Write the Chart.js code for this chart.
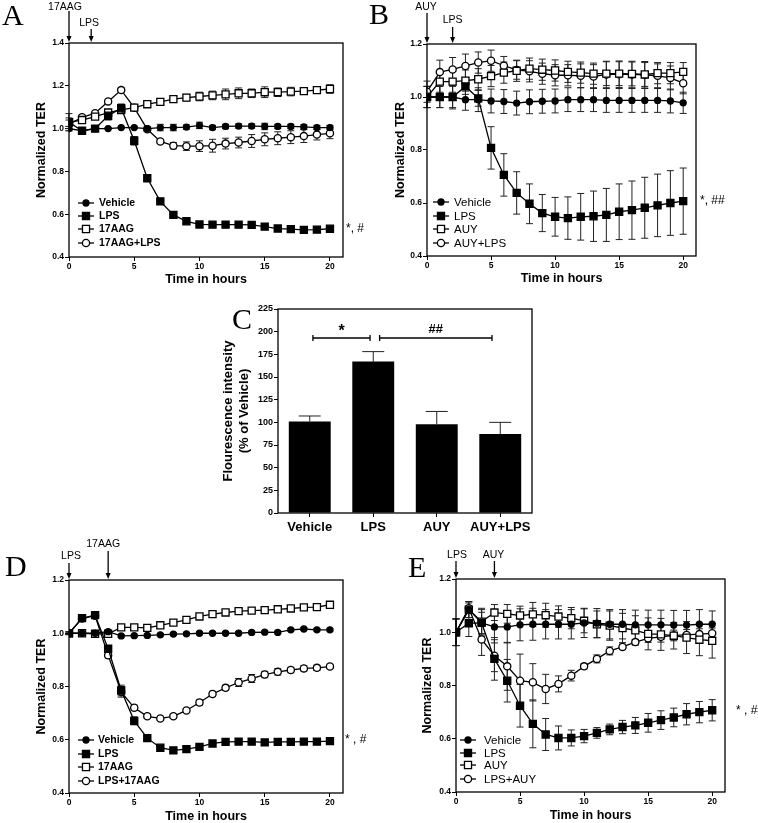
<!DOCTYPE html>
<html>
<head>
<meta charset="utf-8">
<script src="https://cdn.jsdelivr.net/npm/chart.js@4.4.1/dist/chart.umd.min.js"></script>
<style>
  body { margin: 0; background: #fff; width: 758px; height: 823px; position: relative; overflow: hidden; }
  canvas { position: absolute; }
</style>
</head>
<body>
<canvas id="chartA"></canvas>
<canvas id="chartB"></canvas>
<canvas id="chartC"></canvas>
<canvas id="chartD"></canvas>
<canvas id="chartE"></canvas>
<script>
const hours = [0, 1, 2, 3, 4, 5, 6, 7, 8, 9, 10, 11, 12, 13, 14, 15, 16, 17, 18, 19, 20];

// Panel A - 17AAG pretreatment
const aVehicle = [1.00, 0.99, 1.00, 1.00, 1.005, 1.005, 1.00, 1.005, 1.005, 1.007, 1.015, 1.005, 1.01, 1.012, 1.012, 1.01, 1.01, 1.01, 1.008, 1.005, 1.005];
const aVehicleErr = [0.01, 0.01, 0.01, 0.005, 0.005, 0.005, 0.01, 0.015, 0.015, 0.01, 0.015, 0.01, 0.01, 0.01, 0.01, 0.015, 0.01, 0.01, 0.01, 0.01, 0.01];
const aLps = [1.03, 0.99, 1.00, 1.06, 1.095, 0.943, 0.768, 0.66, 0.597, 0.567, 0.552, 0.551, 0.551, 0.551, 0.55, 0.542, 0.533, 0.53, 0.527, 0.528, 0.532];
const aLpsErr = [0.04, 0.01, 0.01, 0.02, 0.02, 0.02, 0.015, 0.01, 0.01, 0.01, 0.005, 0.005, 0.005, 0.005, 0.005, 0.005, 0.005, 0.005, 0.005, 0.005, 0.005];
const a17aag = [1.03, 1.04, 1.056, 1.075, 1.087, 1.098, 1.114, 1.125, 1.138, 1.145, 1.15, 1.155, 1.16, 1.165, 1.165, 1.17, 1.17, 1.173, 1.175, 1.18, 1.185];
const a17aagErr = [0.02, 0.01, 0.01, 0.01, 0.01, 0.01, 0.01, 0.01, 0.015, 0.015, 0.02, 0.02, 0.025, 0.025, 0.02, 0.025, 0.02, 0.02, 0.015, 0.015, 0.02];
const a17aagLps = [1.02, 1.053, 1.072, 1.127, 1.18, 1.098, 0.997, 0.94, 0.92, 0.918, 0.918, 0.92, 0.93, 0.935, 0.942, 0.95, 0.955, 0.96, 0.965, 0.972, 0.978];
const a17aagLpsErr = [0.02, 0.01, 0.01, 0.01, 0.01, 0.01, 0.01, 0.01, 0.015, 0.02, 0.025, 0.03, 0.025, 0.025, 0.03, 0.03, 0.03, 0.03, 0.03, 0.025, 0.025];

// Panel B - AUY pretreatment
const bVehicle = [1.0, 1.0, 1.0, 0.99, 0.99, 0.985, 0.983, 0.977, 0.982, 0.984, 0.985, 0.99, 0.99, 0.99, 0.987, 0.987, 0.987, 0.987, 0.987, 0.985, 0.978];
const bVehicleErr = [0.04, 0.04, 0.045, 0.04, 0.045, 0.045, 0.045, 0.045, 0.045, 0.045, 0.045, 0.045, 0.045, 0.045, 0.045, 0.045, 0.045, 0.045, 0.045, 0.045, 0.04];
const bLps = [1.0, 1.0, 1.0, 1.04, 0.995, 0.808, 0.706, 0.638, 0.597, 0.562, 0.548, 0.543, 0.548, 0.55, 0.555, 0.567, 0.573, 0.582, 0.591, 0.6, 0.607];
const bLpsErr = [0.04, 0.04, 0.04, 0.03, 0.03, 0.08, 0.08, 0.08, 0.075, 0.07, 0.073, 0.08, 0.088, 0.095, 0.1, 0.105, 0.11, 0.115, 0.118, 0.122, 0.125];
const bAuy = [1.0, 1.058, 1.058, 1.062, 1.067, 1.079, 1.092, 1.099, 1.107, 1.103, 1.1, 1.095, 1.092, 1.088, 1.088, 1.088, 1.087, 1.085, 1.09, 1.09, 1.095];
const bAuyErr = [0.04, 0.04, 0.04, 0.04, 0.04, 0.04, 0.04, 0.04, 0.04, 0.04, 0.04, 0.04, 0.04, 0.04, 0.045, 0.045, 0.045, 0.045, 0.04, 0.04, 0.035];
const bAuyLps = [1.02, 1.094, 1.104, 1.117, 1.13, 1.137, 1.118, 1.102, 1.097, 1.088, 1.082, 1.082, 1.08, 1.077, 1.085, 1.086, 1.085, 1.084, 1.08, 1.072, 1.052];
const bAuyLpsErr = [0.04, 0.045, 0.045, 0.045, 0.04, 0.04, 0.035, 0.035, 0.04, 0.04, 0.04, 0.04, 0.045, 0.045, 0.05, 0.05, 0.05, 0.05, 0.045, 0.045, 0.04];

// Panel C - fluorescence bars
const cCategories = ["Vehicle", "LPS", "AUY", "AUY+LPS"];
const cValues = [101, 167, 98, 87];
const cErr = [6, 11, 14, 13];
const cBrackets = [
  { from: 0.05, to: 0.95, value: 193, label: "*" },
  { from: 1.1, to: 2.87, value: 193, label: "##" },
];

// Panel D - 17AAG post-treatment
const dVehicle = [1.0, 1.0, 1.0, 1.006, 0.99, 0.991, 0.992, 0.994, 0.997, 0.998, 1.0, 1.0, 1.0, 1.0, 1.003, 1.004, 1.003, 1.013, 1.016, 1.013, 1.013];
const dVehicleErr = [0.005, 0.005, 0.005, 0.005, 0.005, 0.005, 0.005, 0.005, 0.005, 0.005, 0.005, 0.005, 0.005, 0.005, 0.005, 0.005, 0.005, 0.005, 0.005, 0.005, 0.005];
const dLps = [1.0, 1.057, 1.068, 0.942, 0.785, 0.671, 0.606, 0.57, 0.56, 0.565, 0.573, 0.586, 0.592, 0.593, 0.593, 0.59, 0.592, 0.592, 0.593, 0.593, 0.595];
const dLpsErr = [0.005, 0.008, 0.008, 0.01, 0.02, 0.015, 0.008, 0.005, 0.005, 0.005, 0.005, 0.005, 0.005, 0.005, 0.005, 0.005, 0.005, 0.005, 0.005, 0.005, 0.005];
const d17aag = [1.0, 1.0, 0.998, 0.998, 1.022, 1.022, 1.02, 1.03, 1.04, 1.05, 1.063, 1.072, 1.078, 1.083, 1.085, 1.087, 1.09, 1.093, 1.097, 1.098, 1.107];
const d17aagErr = [0.005, 0.005, 0.005, 0.005, 0.005, 0.005, 0.005, 0.005, 0.005, 0.005, 0.008, 0.008, 0.008, 0.008, 0.008, 0.008, 0.008, 0.008, 0.008, 0.008, 0.01];
const dLps17aag = [1.0, 1.055, 1.066, 0.917, 0.78, 0.72, 0.688, 0.68, 0.688, 0.71, 0.74, 0.772, 0.795, 0.815, 0.83, 0.845, 0.855, 0.862, 0.868, 0.87, 0.875];
const dLps17aagErr = [0.005, 0.008, 0.008, 0.01, 0.02, 0.01, 0.008, 0.008, 0.008, 0.008, 0.01, 0.01, 0.01, 0.015, 0.015, 0.012, 0.012, 0.01, 0.01, 0.01, 0.008];

// Panel E - AUY post-treatment
const eVehicle = [1.0, 1.085, 1.035, 1.02, 1.02, 1.028, 1.03, 1.03, 1.03, 1.03, 1.035, 1.034, 1.03, 1.03, 1.028, 1.028, 1.028, 1.027, 1.027, 1.03, 1.03];
const eVehicleErr = [0.05, 0.03, 0.05, 0.06, 0.06, 0.06, 0.06, 0.055, 0.055, 0.055, 0.055, 0.055, 0.055, 0.055, 0.055, 0.055, 0.055, 0.055, 0.055, 0.055, 0.05];
const eLps = [1.0, 1.034, 1.035, 0.90, 0.818, 0.724, 0.656, 0.616, 0.603, 0.603, 0.61, 0.622, 0.635, 0.644, 0.65, 0.66, 0.67, 0.68, 0.692, 0.70, 0.707];
const eLpsErr = [0.05, 0.05, 0.04, 0.08, 0.08, 0.08, 0.09, 0.06, 0.045, 0.03, 0.025, 0.02, 0.02, 0.025, 0.03, 0.035, 0.035, 0.035, 0.04, 0.04, 0.04];
const eAuy = [1.0, 1.085, 1.04, 1.074, 1.069, 1.063, 1.067, 1.064, 1.059, 1.053, 1.043, 1.03, 1.025, 1.016, 1.007, 0.994, 0.992, 0.987, 0.98, 0.972, 0.968];
const eAuyErr = [0.05, 0.03, 0.05, 0.03, 0.035, 0.035, 0.045, 0.045, 0.04, 0.04, 0.045, 0.05, 0.055, 0.055, 0.055, 0.06, 0.06, 0.05, 0.06, 0.06, 0.065];
const eLpsAuy = [1.0, 1.09, 0.973, 0.912, 0.872, 0.818, 0.812, 0.787, 0.806, 0.837, 0.872, 0.90, 0.93, 0.945, 0.963, 0.977, 0.983, 0.988, 0.99, 0.993, 0.996];
const eLpsAuyErr = [0.05, 0.02, 0.06, 0.06, 0.09, 0.1, 0.07, 0.055, 0.03, 0.02, 0.01, 0.015, 0.015, 0.01, 0.01, 0.015, 0.02, 0.02, 0.02, 0.02, 0.02];

const FONT = "Liberation Sans";
Chart.defaults.font.family = FONT;
Chart.defaults.color = "#000";

const markers = {
  filledCircle: { shape: "circle", r: 3, fill: "#000" },
  filledSquare: { shape: "rect", r: 5, fill: "#000" },
  openSquare: { shape: "rect", r: 5, fill: "#fff" },
  openCircle: { shape: "circle", r: 3.6, fill: "#fff" },
};

function series(label, values, errors, kind) {
  const m = markers[kind];
  return {
    label,
    data: hours.map((h, i) => ({ x: h, y: values[i] })),
    errors,
    marker: m,
    borderColor: "#000",
    borderWidth: 1.3,
    pointStyle: m.shape,
    pointRadius: m.r,
    pointHoverRadius: m.r,
    pointBackgroundColor: m.fill,
    pointBorderColor: "#000",
    pointBorderWidth: 1.3,
  };
}

function drawMarker(ctx, m, x, y) {
  ctx.save();
  ctx.lineWidth = 1.3;
  ctx.strokeStyle = "#000";
  ctx.fillStyle = m.fill;
  ctx.beginPath();
  if (m.shape === "circle") {
    ctx.arc(x, y, m.r, 0, Math.PI * 2);
  } else {
    const s = m.r * Math.SQRT1_2;
    ctx.rect(x - s, y - s, 2 * s, 2 * s);
  }
  ctx.fill();
  ctx.stroke();
  ctx.restore();
}

function arrow(ctx, x, y0, y1) {
  ctx.save();
  ctx.strokeStyle = "#000";
  ctx.fillStyle = "#000";
  ctx.lineWidth = 1.3;
  ctx.beginPath();
  ctx.moveTo(x, y0);
  ctx.lineTo(x, y1 - 4);
  ctx.stroke();
  ctx.beginPath();
  ctx.moveTo(x - 2.5, y1 - 6);
  ctx.lineTo(x + 2.5, y1 - 6);
  ctx.lineTo(x, y1);
  ctx.closePath();
  ctx.fill();
  ctx.restore();
}

// frame, error bars, letters, arrows, legend and notes
const figurePlugin = {
  id: "figure",
  beforeDatasetsDraw(chart, args, opts) {
    const ctx = chart.ctx;
    const ys = chart.scales.y;
    ctx.save();
    ctx.strokeStyle = "#222";
    ctx.lineWidth = 1;
    chart.data.datasets.forEach((ds, i) => {
      if (!ds.errors) return;
      const meta = chart.getDatasetMeta(i);
      ds.data.forEach((d, j) => {
        const v = typeof d === "number" ? d : d.y;
        const e = ds.errors[j];
        const x = meta.data[j].x;
        const top = ys.getPixelForValue(v + e);
        const bot = opts.upOnly ? ys.getPixelForValue(v) : ys.getPixelForValue(v - e);
        const cap = opts.cap || 3.5;
        ctx.beginPath();
        ctx.moveTo(x, top); ctx.lineTo(x, bot);
        ctx.moveTo(x - cap, top); ctx.lineTo(x + cap, top);
        if (!opts.upOnly) { ctx.moveTo(x - cap, bot); ctx.lineTo(x + cap, bot); }
        ctx.stroke();
      });
    });
    ctx.restore();
  },
  afterDraw(chart, args, opts) {
    const ctx = chart.ctx;
    const a = chart.chartArea;
    const ox = opts.box.x, oy = opts.box.y;
    ctx.save();
    ctx.strokeStyle = "#000";
    ctx.lineWidth = 1.3;
    ctx.strokeRect(a.left, a.top, a.right - a.left, a.bottom - a.top);

    ctx.fillStyle = "#000";
    ctx.font = "30px 'Liberation Serif'";
    ctx.textBaseline = "alphabetic";
    ctx.textAlign = "left";
    ctx.fillText(opts.letter.text, opts.letter.x - ox, opts.letter.y - oy);

    (opts.arrows || []).forEach(ar => {
      const x = chart.scales.x.getPixelForValue(ar.hour);
      ctx.font = "10.5px " + FONT;
      ctx.textAlign = "center";
      ctx.fillText(ar.text, x + (ar.dx || 0), ar.textY - oy);
      arrow(ctx, x, ar.from - oy, ar.to - oy);
    });

    if (opts.legend) {
      const lg = opts.legend;
      ctx.font = (lg.bold ? "bold " : "") + lg.size + "px " + FONT;
      ctx.textAlign = "left";
      ctx.textBaseline = "middle";
      chart.data.datasets.forEach((ds, i) => {
        const y = lg.rows[i] - oy;
        const mx = lg.markerX - ox;
        ctx.beginPath();
        ctx.lineWidth = 1.3;
        ctx.moveTo(mx - 8, y); ctx.lineTo(mx + 8, y);
        ctx.stroke();
        drawMarker(ctx, ds.marker, mx, y);
        ctx.fillText(ds.label, lg.textX - ox, y + 0.5);
      });
    }

    if (opts.note) {
      ctx.font = "12px " + FONT;
      ctx.textAlign = "left";
      ctx.textBaseline = "middle";
      ctx.fillText(opts.note.text, opts.note.x - ox, chart.scales.y.getPixelForValue(opts.note.value));
    }

    (opts.brackets || []).forEach(br => {
      const xs = chart.scales.x;
      const x0 = xs.getPixelForValue(0);
      const step = xs.getPixelForValue(1) - x0;
      const l = x0 + br.from * step, r = x0 + br.to * step;
      const y = chart.scales.y.getPixelForValue(br.value);
      ctx.lineWidth = 1.3;
      ctx.beginPath();
      ctx.moveTo(l, y); ctx.lineTo(r, y);
      ctx.moveTo(l, y - 3); ctx.lineTo(l, y + 3);
      ctx.moveTo(r, y - 3); ctx.lineTo(r, y + 3);
      ctx.stroke();
      ctx.font = (br.label === "*" ? "bold 16px " : "bold 13px ") + FONT;
      ctx.textAlign = "center";
      ctx.textBaseline = "alphabetic";
      ctx.fillText(br.label, (l + r) / 2, y - (br.label === "*" ? 2 : 5));
    });
    ctx.restore();
  },
};
Chart.register(figurePlugin);

function place(canvas, box) {
  canvas.width = box.w;
  canvas.height = box.h;
  canvas.style.left = box.x + "px";
  canvas.style.top = box.y + "px";
}

function timeCourse(id, box, area, yMax, datasets, titles, fig) {
  const canvas = document.getElementById(id);
  place(canvas, box);
  const tickFont = { family: FONT, size: 8.5, weight: "bold" };
  const titleFont = { family: FONT, size: 12.5, weight: "bold", lineHeight: 1 };
  return new Chart(canvas, {
    type: "line",
    data: { datasets },
    options: {
      animation: false,
      responsive: false,
      devicePixelRatio: 1,
      layout: { padding: { left: 0, top: area.t - box.y, right: box.x + box.w - area.r, bottom: 0 } },
      scales: {
        x: {
          type: "linear", min: 0, max: 21,
          ticks: { stepSize: 5, includeBounds: false, font: tickFont, color: "#000", padding: 1, maxRotation: 0 },
          grid: { drawOnChartArea: false, tickLength: 4, color: "#000" },
          border: { display: false },
          title: { display: true, text: "Time in hours", font: titleFont, color: "#000", padding: { top: 0, bottom: titles.xPad } },
          afterFit: s => { s.height = box.y + box.h - area.b; },
        },
        y: {
          min: 0.4, max: yMax,
          ticks: { stepSize: 0.2, font: tickFont, color: "#000", padding: 1, callback: v => v.toFixed(1) },
          grid: { drawOnChartArea: false, tickLength: 4, color: "#000" },
          border: { display: false },
          title: { display: true, text: "Normalized TER", font: titleFont, color: "#000", padding: { top: titles.yPad, bottom: 0 } },
          afterFit: s => { s.width = area.l - box.x; },
        },
      },
      plugins: {
        legend: { display: false },
        tooltip: { enabled: false },
        figure: Object.assign({ box }, fig),
      },
    },
  });
}

// A
timeCourse("chartA",
  { x: 0, y: 0, w: 378, h: 292 }, { l: 69, t: 43, r: 343, b: 257 }, 1.4,
  [
    series("Vehicle", aVehicle, aVehicleErr, "filledCircle"),
    series("LPS", aLps, aLpsErr, "filledSquare"),
    series("17AAG", a17aag, a17aagErr, "openSquare"),
    series("17AAG+LPS", a17aagLps, a17aagLpsErr, "openCircle"),
  ],
  { xPad: 5.75, yPad: 35.75 },
  {
    letter: { text: "A", x: 2, y: 25 },
    arrows: [
      { text: "17AAG", hour: 0, dx: -4, textY: 9.5, from: 11, to: 42 },
      { text: "LPS", hour: 1.7, dx: -2, textY: 26, from: 29, to: 42 },
    ],
    legend: { rows: [203, 216, 229, 243], markerX: 86, textX: 99, bold: true, size: 10.5 },
    note: { text: "*, #", x: 346, value: 0.532 },
  });

// B
timeCourse("chartB",
  { x: 360, y: 0, w: 398, h: 292 }, { l: 427, t: 44, r: 696, b: 256 }, 1.2,
  [
    series("Vehicle", bVehicle, bVehicleErr, "filledCircle"),
    series("LPS", bLps, bLpsErr, "filledSquare"),
    series("AUY", bAuy, bAuyErr, "openSquare"),
    series("AUY+LPS", bAuyLps, bAuyLpsErr, "openCircle"),
  ],
  { xPad: 6.75, yPad: 34.75 },
  {
    letter: { text: "B", x: 369, y: 24 },
    arrows: [
      { text: "AUY", hour: 0, dx: -1, textY: 10, from: 13, to: 43 },
      { text: "LPS", hour: 2, dx: 0, textY: 23, from: 27, to: 43 },
    ],
    legend: { rows: [202, 216, 229, 243], markerX: 441, textX: 454, bold: false, size: 11.5 },
    note: { text: "*, ##", x: 700, value: 0.607 },
  });

// C
(function () {
  const box = { x: 200, y: 290, w: 360, h: 250 };
  const area = { l: 278, t: 309, r: 532, b: 513 };
  const canvas = document.getElementById("chartC");
  place(canvas, box);
  new Chart(canvas, {
    type: "bar",
    data: {
      labels: cCategories,
      datasets: [{ data: cValues, errors: cErr, backgroundColor: "#000", barPercentage: 0.66, categoryPercentage: 1 }],
    },
    options: {
      animation: false,
      responsive: false,
      devicePixelRatio: 1,
      layout: { padding: { left: 0, top: area.t - box.y, right: box.x + box.w - area.r, bottom: 0 } },
      scales: {
        x: {
          ticks: { font: { family: FONT, size: 13, weight: "bold" }, color: "#000", padding: 3, maxRotation: 0 },
          grid: { drawOnChartArea: false, tickLength: 4, color: "#000", offset: false },
          border: { display: false },
          afterFit: s => { s.height = box.y + box.h - area.b; },
        },
        y: {
          min: 0, max: 225,
          ticks: { stepSize: 25, font: { family: FONT, size: 9, weight: "bold" }, color: "#000", padding: 1 },
          grid: { drawOnChartArea: false, tickLength: 4, color: "#000" },
          border: { display: false },
          title: {
            display: true, text: ["Flourescence intensity", "(% of Vehicle)"],
            font: { family: FONT, size: 13, weight: "bold", lineHeight: 1.3 }, color: "#000",
            padding: { top: 19.5, bottom: 0 },
          },
          afterFit: s => { s.width = area.l - box.x; },
        },
      },
      plugins: {
        legend: { display: false },
        tooltip: { enabled: false },
        figure: { box, upOnly: true, cap: 11, letter: { text: "C", x: 232, y: 329 }, brackets: cBrackets },
      },
    },
  });
})();

// D
timeCourse("chartD",
  { x: 0, y: 530, w: 378, h: 293 }, { l: 69, t: 580, r: 343, b: 793 }, 1.2,
  [
    series("Vehicle", dVehicle, dVehicleErr, "filledCircle"),
    series("LPS", dLps, dLpsErr, "filledSquare"),
    series("17AAG", d17aag, d17aagErr, "openSquare"),
    series("LPS+17AAG", dLps17aag, dLps17aagErr, "openCircle"),
  ],
  { xPad: 0, yPad: 35.75 },
  {
    letter: { text: "D", x: 5, y: 576 },
    arrows: [
      { text: "LPS", hour: 0, dx: 2, textY: 559, from: 563, to: 579 },
      { text: "17AAG", hour: 3, dx: -5, textY: 547, from: 551, to: 579 },
    ],
    legend: { rows: [740, 754, 767, 781], markerX: 86, textX: 98, bold: true, size: 10.5 },
    note: { text: "* , #", x: 345, value: 0.6 },
  });

// E
timeCourse("chartE",
  { x: 380, y: 530, w: 378, h: 293 }, { l: 456, t: 579, r: 725, b: 792 }, 1.2,
  [
    series("Vehicle", eVehicle, eVehicleErr, "filledCircle"),
    series("LPS", eLps, eLpsErr, "filledSquare"),
    series("AUY", eAuy, eAuyErr, "openSquare"),
    series("LPS+AUY", eLpsAuy, eLpsAuyErr, "openCircle"),
  ],
  { xPad: 0.75, yPad: 41.75 },
  {
    letter: { text: "E", x: 408, y: 577 },
    arrows: [
      { text: "LPS", hour: 0, dx: 1, textY: 558, from: 561, to: 578 },
      { text: "AUY", hour: 3, dx: -1, textY: 558, from: 561, to: 578 },
    ],
    legend: { rows: [740, 753, 765, 779], markerX: 468, textX: 484, bold: false, size: 11.5 },
    note: { text: "* , ##", x: 736, value: 0.707 },
  });
</script>
</body>
</html>
